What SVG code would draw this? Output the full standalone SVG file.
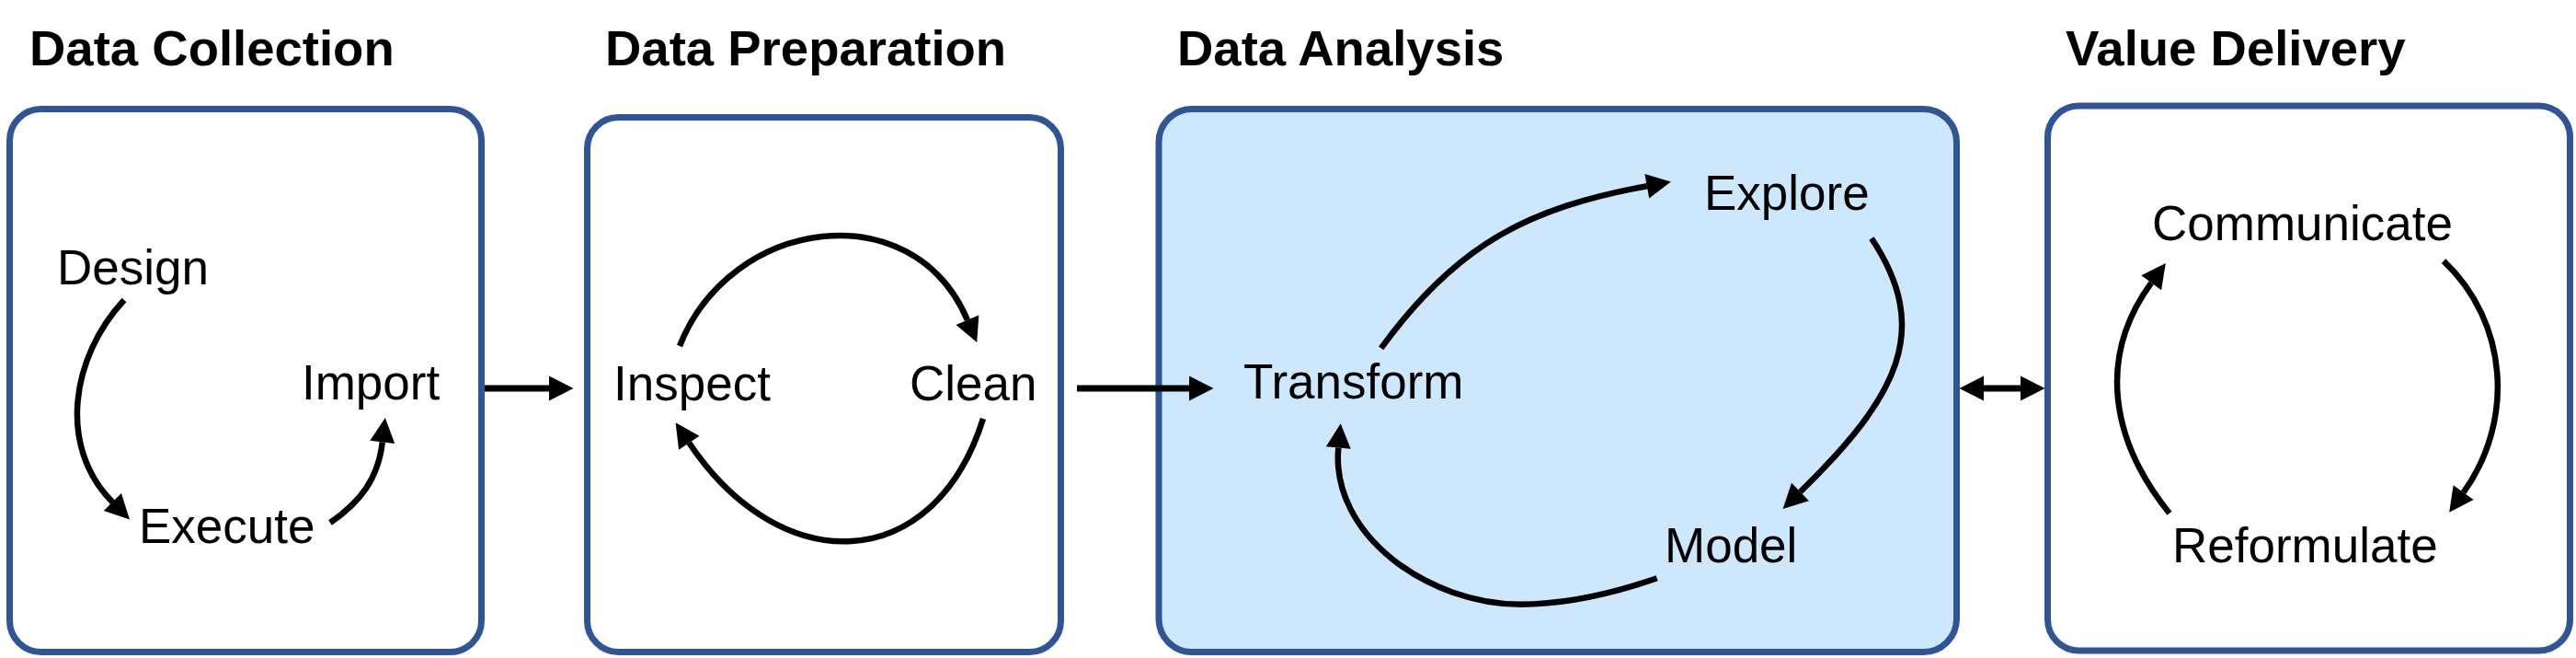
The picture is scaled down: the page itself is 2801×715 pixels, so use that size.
<svg xmlns="http://www.w3.org/2000/svg" width="2801" height="715" viewBox="0 0 2801 715">
<style>
.box{fill:#ffffff;stroke:#2F5597;stroke-width:7}
.hl{fill:#CDE8FC}
.title{font-family:"Liberation Sans",Arial,sans-serif;font-weight:bold;font-size:54.5px;fill:#000}
.lbl{font-family:"Liberation Sans",Arial,sans-serif;font-size:53px;fill:#000}
.c{fill:none;stroke:#000;stroke-width:6.5}
.s{fill:none;stroke:#000;stroke-width:7}
</style>
<defs>
<marker id="ah" markerUnits="userSpaceOnUse" markerWidth="30" markerHeight="30" refX="0" refY="0" viewBox="0 -15 30 30" orient="auto-start-reverse" overflow="visible">
<path d="M0,-13.5 L26.5,0 L0,13.5 z" fill="#000"/>
</marker>
</defs>
<rect width="2801" height="715" fill="#ffffff"/>
<g id="data-collection">
<text class="title" x="32" y="71">Data Collection</text>
<rect class="box" x="10.5" y="118.5" width="513" height="590" rx="34"/>
<g id="design"><text class="lbl" x="62" y="309">Design</text></g>
<g id="import"><text class="lbl" x="328" y="434">Import</text></g>
<g id="execute"><text class="lbl" x="151" y="590">Execute</text></g>
</g>
<g id="data-preparation">
<text class="title" x="658" y="71">Data Preparation</text>
<rect class="box" x="638.5" y="127.5" width="515" height="581" rx="34"/>
<g id="inspect"><text class="lbl" x="667" y="435">Inspect</text></g>
<g id="clean"><text class="lbl" x="989" y="435">Clean</text></g>
</g>
<g id="data-analysis">
<text class="title" x="1280" y="71">Data Analysis</text>
<rect class="box hl" x="1260" y="118.5" width="867.5" height="590" rx="36"/>
<g id="transform"><text class="lbl" x="1352" y="433">Transform</text></g>
<g id="explore"><text class="lbl" x="1853" y="228">Explore</text></g>
<g id="model"><text class="lbl" x="1810" y="611">Model</text></g>
</g>
<g id="value-delivery">
<text class="title" x="2246" y="71">Value Delivery</text>
<rect class="box" x="2226.5" y="115" width="568" height="592" rx="34"/>
<g id="communicate"><text class="lbl" x="2340" y="261">Communicate</text></g>
<g id="reformulate"><text class="lbl" x="2362" y="611">Reformulate</text></g>
</g>
<g id="connectors">
<path class="s" d="M527,422 H597" marker-end="url(#ah)"/>
<path class="s" d="M1171,422 H1293" marker-end="url(#ah)"/>
<path class="s" d="M2157,422 H2197" marker-start="url(#ah)" marker-end="url(#ah)"/>
<path class="c" d="M135,326 C77.2,388 62.4,485.3 122.3,545.6" marker-end="url(#ah)"/>
<path class="c" d="M359,568 C392,545.4 411.2,520.1 415.8,480.4" marker-end="url(#ah)"/>
<path class="c" d="M739,376 C794.2,235.5 993,208.7 1051.9,347.7" marker-end="url(#ah)"/>
<path class="c" d="M1069,455 C1015.3,625.8 848.8,630.1 749.3,481.2" marker-end="url(#ah)"/>
<path class="c" d="M1501.7,378.3 C1584.3,264.9 1662.9,225.6 1790.8,202.2" marker-end="url(#ah)"/>
<path class="c" d="M2035,259 C2101,358.6 2064.75,429.5 1957.5,534.5" marker-end="url(#ah)"/>
<path class="c" d="M1801.7,628.3 C1754.5,644.6 1703.3,656.7 1653.3,656.7 C1553.3,656.7 1446.6,581.3 1455.3,486.6" marker-end="url(#ah)"/>
<path class="c" d="M2358.9,557.7 C2295.6,479.1 2279.7,388.5 2339.2,307.3" marker-end="url(#ah)"/>
<path class="c" d="M2657.1,283.6 C2727.2,349.8 2734.8,456.8 2678.6,535.2" marker-end="url(#ah)"/>
</g>
</svg>
